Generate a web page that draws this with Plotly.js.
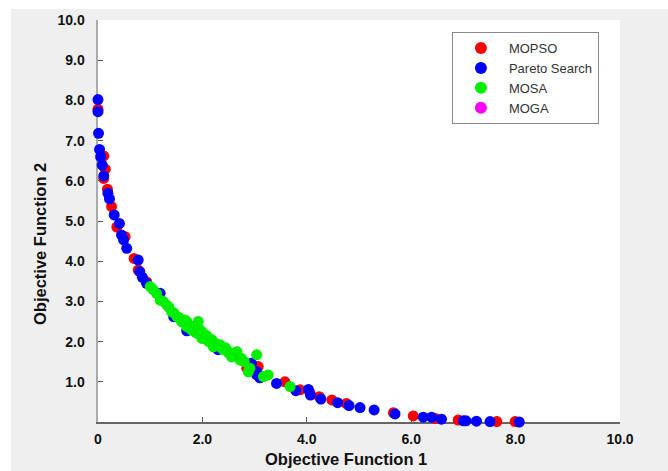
<!DOCTYPE html>
<html>
<head>
<meta charset="utf-8">
<script src="https://cdn.plot.ly/plotly-3.0.1.min.js"></script>
<style>html,body{margin:0;padding:0;background:#fff;}#chart{width:668px;height:471px;}</style>
</head>
<body>
<div id="chart"></div>
<script>
// MOPSO (red)
const mopsoX = [0.0, 0.11, 0.14, 0.11, 0.18, 0.26, 0.36, 0.52, 0.69, 0.77, 0.93, 2.85, 2.88, 3.07, 3.58, 3.87, 4.06, 4.24, 4.48, 4.76, 5.66, 6.04, 6.46, 6.90, 7.64, 7.99];
const mopsoY = [7.78, 6.62, 6.29, 6.06, 5.79, 5.36, 4.85, 4.61, 4.07, 3.78, 3.49, 1.34, 1.42, 1.38, 1.00, 0.80, 0.73, 0.63, 0.55, 0.46, 0.23, 0.15, 0.09, 0.05, 0.01, 0.01];
// Pareto Search (blue)
const paretoX = [0.0, 0.0, 0.01, 0.03, 0.05, 0.08, 0.11, 0.19, 0.22, 0.31, 0.41, 0.45, 0.49, 0.55, 0.77, 0.80, 0.85, 0.93, 1.19, 1.45, 1.70, 2.30, 2.94, 2.94, 3.04, 3.04, 3.10, 3.42, 3.79, 4.03, 4.07, 4.27, 4.59, 4.81, 5.02, 5.29, 5.69, 6.23, 6.39, 6.58, 7.00, 7.05, 7.25, 7.51, 8.07];
const paretoY = [8.02, 7.72, 7.18, 6.78, 6.60, 6.39, 6.12, 5.69, 5.55, 5.15, 4.94, 4.65, 4.53, 4.32, 4.03, 3.74, 3.60, 3.45, 3.20, 2.62, 2.27, 1.80, 1.46, 1.29, 1.25, 1.17, 1.10, 0.96, 0.78, 0.81, 0.67, 0.57, 0.48, 0.41, 0.36, 0.30, 0.20, 0.12, 0.12, 0.07, 0.03, 0.03, 0.02, 0.01, 0.00];
// MOSA (green)
const mosaX = [1.00, 1.05, 1.12, 1.19, 1.25, 1.32, 1.36, 1.41, 1.45, 1.51, 1.55, 1.60, 1.65, 1.67, 1.70, 1.70, 1.75, 1.79, 1.82, 1.85, 1.89, 1.92, 1.95, 1.99, 1.99, 2.02, 2.05, 2.08, 2.12, 2.15, 2.18, 2.21, 2.24, 2.28, 2.34, 2.34, 2.40, 2.44, 2.47, 2.50, 2.56, 2.59, 2.66, 2.69, 2.72, 2.75, 2.80, 2.88, 2.91, 3.04, 3.17, 3.26, 3.68];
const mosaY = [3.37, 3.30, 3.20, 3.03, 3.00, 2.91, 2.85, 2.74, 2.72, 2.62, 2.60, 2.50, 2.47, 2.54, 2.50, 2.37, 2.40, 2.29, 2.35, 2.25, 2.21, 2.50, 2.30, 2.25, 2.08, 2.20, 2.08, 2.15, 2.00, 2.04, 2.05, 1.87, 1.96, 1.90, 1.87, 1.92, 1.80, 1.85, 1.79, 1.72, 1.62, 1.70, 1.75, 1.60, 1.54, 1.58, 1.50, 1.25, 1.34, 1.67, 1.13, 1.17, 0.88];
// MOGA (magenta) - no visible points
const mogaX = [null];
const mogaY = [null];

const seriesNames = ['MOPSO', 'Pareto Search', 'MOSA', 'MOGA'];
const seriesColors = ['#ff0000', '#0000ff', '#00ee00', '#ff00ff'];
const xTickVals = [0, 2, 4, 6, 8, 10];
const xTickText = ['0', '2.0', '4.0', '6.0', '8.0', '10.0'];
const yTickVals = [1, 2, 3, 4, 5, 6, 7, 8, 9, 10];
const yTickText = ['1.0', '2.0', '3.0', '4.0', '5.0', '6.0', '7.0', '8.0', '9.0', '10.0'];

const xs = [mopsoX, paretoX, mosaX, mogaX];
const ys = [mopsoY, paretoY, mosaY, mogaY];
const traces = seriesNames.map((n, i) => ({
  type: 'scatter', mode: 'markers', name: n,
  x: xs[i], y: ys[i],
  cliponaxis: false,
  marker: {color: seriesColors[i], size: 11, line: {width: 0}}
}));

const font = 'Liberation Sans, Arial, sans-serif';
const layout = {
  width: 668, height: 471,
  margin: {l: 98, r: 48, t: 20, b: 49},
  paper_bgcolor: '#efefef',
  plot_bgcolor: '#ffffff',
  font: {family: font, color: '#111'},
  showlegend: true,
  legend: {
    x: 0.678, y: 0.97, xanchor: 'left', yanchor: 'top',
    bgcolor: '#ffffff', bordercolor: '#888888', borderwidth: 1,
    font: {family: font, size: 13, color: '#333'},
    tracegroupgap: 0, itemwidth: 46, itemsizing: 'constant'
  },
  xaxis: {
    range: [0, 10], showgrid: false, zeroline: false,
    showline: true, linecolor: '#666666', linewidth: 1.5,
    ticks: 'inside', ticklen: 5, tickcolor: '#555555',
    tickvals: xTickVals, ticktext: xTickText,
    tickfont: {family: font, size: 14, color: '#111', weight: 'bold'},
    ticklabelstandoff: 4,
    layer: 'below traces', fixedrange: true
  },
  yaxis: {
    range: [0, 10], showgrid: false, zeroline: false,
    showline: true, linecolor: '#aaaaaa', linewidth: 2.5,
    ticks: 'inside', ticklen: 5, tickcolor: '#555555',
    tickvals: yTickVals, ticktext: yTickText,
    tickfont: {family: font, size: 14, color: '#111', weight: 'bold'},
    ticklabelstandoff: 8,
    layer: 'below traces', fixedrange: true
  },
  shapes: [
    {type: 'rect', xref: 'paper', yref: 'paper', x0: -0.2, x1: 1.1, y0: 1.0274, y1: 1.07, fillcolor: '#ffffff', line: {width: 0}, layer: 'below'},
    {type: 'rect', xref: 'paper', yref: 'paper', x0: -0.2, x1: -0.1667, y0: -0.15, y1: 1.07, fillcolor: '#ffffff', line: {width: 0}, layer: 'below'}
  ],
  annotations: [
    {text: 'Objective Function 1', xref: 'paper', yref: 'paper', x: (346 - 98) / 522, y: (422 - 459) / 402,
     showarrow: false, xanchor: 'center', yanchor: 'middle', font: {family: font, size: 16.5, color: '#111', weight: 'bold'}},
    {text: 'Objective Function 2', xref: 'paper', yref: 'paper', x: (40 - 98) / 522, y: (422 - 244) / 402,
     showarrow: false, xanchor: 'center', yanchor: 'middle', textangle: -90, font: {family: font, size: 16.5, color: '#111', weight: 'bold'}}
  ]
};

Plotly.newPlot('chart', traces, layout, {displayModeBar: false, staticPlot: true});
</script>
</body>
</html>
